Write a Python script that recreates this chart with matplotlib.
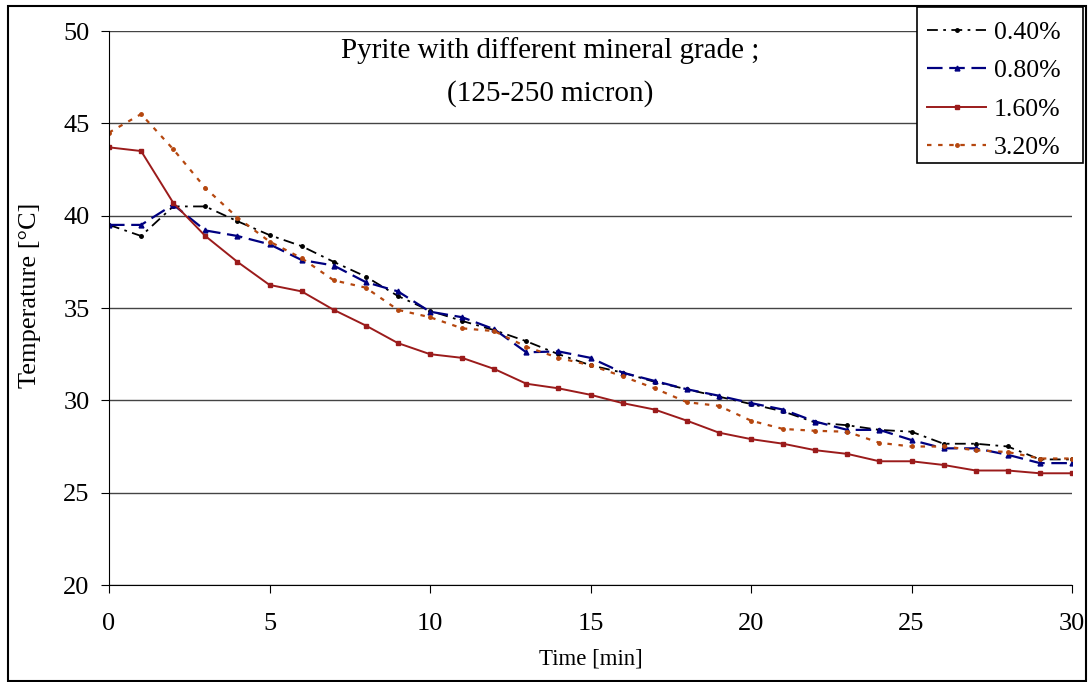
import numpy as np
import matplotlib
matplotlib.use('Agg')
import matplotlib.pyplot as plt

# time in minutes
time_min = list(range(0, 31))

# temperature readings [C] for each grade
t_040 = [39.5, 38.9, 40.5, 40.5, 39.7, 38.95, 38.35, 37.5, 36.7, 35.65, 34.85,
         34.3, 33.8, 33.2, 32.5, 31.9, 31.5, 31.0, 30.6, 30.2, 29.8,
         29.4, 28.8, 28.65, 28.4, 28.3, 27.65, 27.65, 27.5, 26.8, 26.8]
t_080 = [39.5, 39.5, 40.6, 39.2, 38.9, 38.45, 37.6, 37.3, 36.4, 35.9, 34.8,
         34.5, 33.85, 32.6, 32.65, 32.3, 31.5, 31.05, 30.6, 30.25, 29.85,
         29.5, 28.85, 28.4, 28.4, 27.85, 27.4, 27.4, 27.05, 26.6, 26.6]
t_160 = [43.7, 43.5, 40.7, 38.9, 37.5, 36.25, 35.9, 34.9, 34.05, 33.1, 32.5,
         32.3, 31.7, 30.9, 30.65, 30.3, 29.85, 29.5, 28.9, 28.25, 27.9,
         27.65, 27.3, 27.1, 26.7, 26.7, 26.5, 26.2, 26.2, 26.05, 26.05]
t_320 = [44.5, 45.5, 43.6, 41.5, 39.9, 38.6, 37.7, 36.5, 36.1, 34.9, 34.5,
         33.9, 33.75, 32.9, 32.3, 31.9, 31.3, 30.65, 29.9, 29.7, 28.9,
         28.45, 28.35, 28.3, 27.7, 27.5, 27.5, 27.3, 27.2, 26.85, 26.85]

labels = ['0.40%', '0.80%', '1.60%', '3.20%']

plt.rcParams['font.family'] = ['Liberation Serif', 'DejaVu Serif']

W, H = 1092, 682
fig = plt.figure(figsize=(W/100, H/100), dpi=100)
ax = fig.add_axes([109/W, 1-585/H, (1072-109)/W, (585-31)/H])

ax.plot(time_min, t_040, color='black', ls=(0, (6, 3, 1.5, 3)), lw=1.3,
        marker='o', ms=2.5, label=labels[0])
ax.plot(time_min, t_080, color='#000080', ls=(0, (7, 3)), lw=1.6,
        marker='^', ms=3.5, label=labels[1])
ax.plot(time_min, t_160, color='#9B1B1B', ls='-', lw=1.4,
        marker='s', ms=3, label=labels[2])
ax.plot(time_min, t_320, color='#B5470F', ls=(0, (2, 3)), lw=1.6,
        marker='o', ms=2.5, label=labels[3])

ax.set_xlim(0, 30)
ax.set_ylim(20, 50)
ax.set_xticks(np.arange(0, 31, 5))
ax.set_yticks(np.arange(20, 51, 5))
ax.yaxis.grid(True, color='#444444', lw=1)
ax.set_axisbelow(True)
ax.spines['top'].set_visible(False)
ax.spines['right'].set_visible(False)
ax.tick_params(labelsize=19, direction='out', length=6)
ax.tick_params(axis='y', pad=8)
ax.tick_params(axis='x', pad=14)
ax.set_xlabel('Time [min]', fontsize=16.5)
ax.set_ylabel('Temperature [\u00b0C]', fontsize=19)
ax.xaxis.set_label_coords(0.5, 1-(659-31)/(585-31), transform=ax.transAxes)
ax.yaxis.set_label_coords(-(109-30)/(1072-109), 1-(295-31)/(585-31))
ax.xaxis.label.set_va('center')
ax.yaxis.label.set_va('center')

# title sits a bit left of the plot centre
fig.text(550/W, 1-51/H, 'Pyrite with different mineral grade ;',
         ha='center', va='center', fontsize=21)
fig.text(550/W, 1-94/H, '(125-250 micron)',
         ha='center', va='center', fontsize=21)

leg = fig.legend(loc='upper left', bbox_to_anchor=(927/W, 1-21/H),
                 fontsize=18.5, frameon=False,
                 handlelength=2.3, handletextpad=0.3, borderpad=0,
                 labelspacing=0.6, borderaxespad=0)

# legend box drawn by hand (Excel keeps extra room on the right)
fig.patches.append(plt.Rectangle((917/W, 1-163/H), (1083-917)/W, (163-7)/H,
                                 transform=fig.transFigure, fill=True,
                                 facecolor='white', edgecolor='black', lw=1.2,
                                 zorder=4))
leg.set_zorder(5)

# frame around the whole chart
fig.patches.append(plt.Rectangle((8/W, 1-681/H), (1086-8)/W, (681-6)/H,
                                 transform=fig.transFigure, fill=False,
                                 edgecolor='black', lw=1.5))

plt.savefig('out.png', dpi=100)
